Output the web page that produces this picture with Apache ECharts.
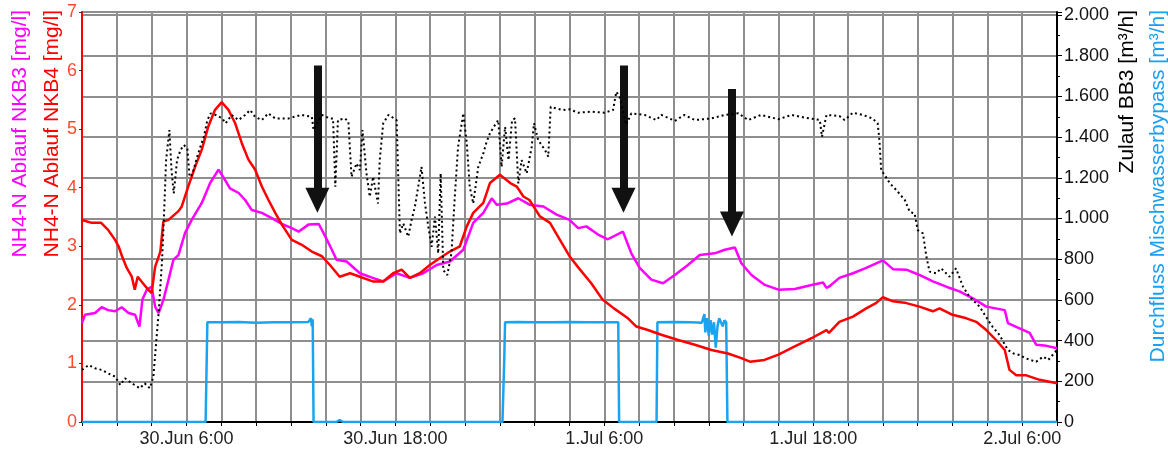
<!DOCTYPE html>
<html>
<head>
<meta charset="utf-8">
<script src="https://cdn.jsdelivr.net/npm/echarts@6/dist/echarts.min.js"></script>
<style>
html,body{margin:0;padding:0;background:#fff;}
#c{width:1168px;height:452px;}
</style>
</head>
<body>
<div id="c"></div>
<script>
// x values: hours since 30.Jun 00:00
const dayNames = ['30.Jun', '1.Jul', '2.Jul'];
const labelHours = [6, 18, 30, 42, 54];

// NH4-N Ablauf NKB4 [mg/l] (red)
const nkb4 = [[0,3.45],[0.56,3.40],[1.1,3.40],[1.5,3.28],[1.9,3.11],[2.1,3.0],[2.3,2.83],[2.57,2.63],[2.86,2.48],[3.03,2.26],[3.2,2.48],[3.5,2.37],[3.8,2.26],[4.0,2.2],[4.2,2.65],[4.5,2.91],[4.67,3.42],[4.97,3.45],[5.54,3.6],[5.73,3.68],[6.1,4.02],[6.5,4.36],[6.88,4.65],[7.26,5.05],[7.64,5.33],[8.03,5.46],[8.41,5.33],[8.8,5.1],[9.18,4.76],[9.56,4.48],[9.94,4.31],[10.33,4.02],[10.71,3.79],[11.1,3.57],[11.48,3.37],[12.05,3.11],[12.6,3.03],[13.2,2.91],[13.78,2.83],[14.24,2.68],[14.8,2.48],[15.4,2.54],[15.96,2.48],[16.7,2.40],[17.3,2.40],[17.87,2.54],[18.36,2.6],[18.83,2.46],[19.4,2.54],[19.98,2.68],[20.56,2.8],[21.13,2.91],[21.7,3.0],[22.1,3.34],[22.47,3.57],[23.05,3.74],[23.43,4.08],[24.0,4.22],[24.6,4.08],[24.97,4.02],[25.35,3.85],[25.7,3.79],[26.3,3.51],[26.88,3.40],[27.45,3.11],[28.0,2.83],[28.5,2.64],[29.25,2.37],[29.9,2.09],[30.55,1.94],[31.36,1.77],[31.84,1.63],[32.5,1.57],[33.27,1.49],[34.24,1.40],[35.2,1.32],[36.15,1.23],[37.1,1.17],[37.87,1.09],[38.36,1.03],[39.2,1.06],[40.0,1.15],[40.94,1.29],[41.9,1.43],[42.76,1.57],[42.9,1.52],[43.5,1.71],[44.28,1.8],[45.04,1.94],[45.6,2.03],[46.0,2.13],[46.58,2.06],[47.35,2.03],[48.1,1.97],[48.87,1.89],[49.25,1.94],[50.0,1.83],[50.8,1.77],[51.36,1.71],[51.94,1.57],[52.5,1.40],[53.0,1.23],[53.27,0.89],[53.66,0.80],[54.2,0.80],[55.0,0.72],[56,0.66]];

// NH4-N Ablauf NKB3 [mg/l] (magenta)
const nkb3 = [[0,1.69],[0.17,1.83],[0.75,1.86],[1.13,1.96],[1.5,1.91],[1.9,1.89],[2.28,1.96],[2.67,1.86],[3.05,1.83],[3.3,1.63],[3.47,2.09],[3.72,2.26],[4.0,2.31],[4.2,1.97],[4.4,1.86],[4.68,2.09],[4.97,2.43],[5.25,2.77],[5.54,2.85],[5.92,3.23],[6.3,3.45],[6.88,3.74],[7.36,4.08],[7.84,4.31],[8.2,4.14],[8.5,3.99],[9.0,3.91],[9.37,3.79],[9.75,3.62],[10.33,3.57],[10.9,3.48],[11.48,3.38],[12.05,3.31],[12.44,3.25],[13.0,3.37],[13.6,3.38],[13.97,3.17],[14.35,2.94],[14.62,2.77],[15.2,2.74],[15.96,2.54],[16.7,2.46],[17.3,2.40],[18.07,2.54],[18.83,2.46],[19.6,2.54],[20.37,2.68],[21.13,2.74],[21.9,2.94],[22.47,3.40],[23.05,3.57],[23.53,3.82],[23.82,3.71],[24.4,3.73],[25.06,3.82],[25.7,3.71],[26.5,3.68],[27.26,3.54],[28.0,3.45],[28.5,3.31],[28.97,3.34],[29.64,3.20],[30.2,3.12],[31.07,3.25],[31.55,2.88],[32.03,2.63],[32.7,2.43],[33.37,2.37],[34.05,2.51],[34.8,2.68],[35.48,2.85],[36.34,2.88],[36.92,2.94],[37.5,2.98],[37.87,2.71],[38.45,2.51],[39.22,2.34],[40.0,2.26],[40.94,2.27],[41.9,2.34],[42.57,2.38],[42.76,2.29],[42.9,2.31],[43.5,2.46],[44.28,2.54],[45.04,2.63],[46.0,2.76],[46.58,2.61],[47.35,2.6],[48.1,2.51],[48.87,2.40],[49.64,2.31],[50.4,2.23],[51.17,2.11],[51.94,1.97],[53.0,1.91],[53.18,1.69],[53.85,1.60],[54.43,1.52],[54.8,1.32],[55.4,1.30],[56,1.26]];

// Zulauf BB3 [m³/h] (black dotted)
const zulauf = [[0,256],[0.38,280],[0.75,264],[1.13,256],[1.5,239],[1.9,223],[2.2,182],[2.47,215],[2.86,190],[3.33,166],[3.6,190],[3.9,166],[4.1,223],[4.24,370],[4.4,534],[4.6,796],[4.7,993],[4.83,1287],[5.02,1435],[5.14,1238],[5.27,1124],[5.46,1287],[5.66,1337],[5.85,1361],[6.05,1345],[6.18,1205],[6.33,1215],[6.62,1304],[6.8,1353],[7.0,1402],[7.2,1484],[7.39,1517],[7.68,1509],[8.06,1492],[8.25,1468],[8.6,1509],[8.99,1484],[9.37,1509],[9.66,1533],[9.94,1500],[10.33,1484],[10.7,1517],[11.1,1492],[11.86,1492],[12.6,1509],[13.2,1500],[13.3,1435],[13.78,1509],[14.24,1492],[14.42,1492],[14.55,1156],[14.7,1484],[15.1,1492],[15.3,1476],[15.48,1205],[15.77,1271],[15.96,1238],[16.11,1435],[16.34,1222],[16.53,1107],[16.72,1205],[17.0,1074],[17.1,1287],[17.3,1468],[17.6,1509],[18.07,1484],[18.26,927],[18.45,976],[18.74,911],[18.93,993],[19.12,1058],[19.31,1156],[19.5,1254],[19.7,1074],[19.89,960],[20.08,861],[20.27,1009],[20.46,829],[20.6,1222],[20.75,747],[20.98,722],[21.22,829],[21.4,1091],[21.6,1353],[21.9,1517],[22.1,1370],[22.27,1156],[22.47,1074],[22.76,1254],[23.05,1320],[23.24,1377],[23.43,1419],[23.72,1460],[23.91,1484],[24.1,1254],[24.3,1451],[24.5,1287],[24.7,1484],[24.87,1492],[25.06,1173],[25.25,1287],[25.54,1222],[25.83,1353],[25.96,1468],[26.2,1386],[26.59,1337],[26.78,1304],[26.92,1549],[27.26,1541],[27.64,1533],[28.0,1537],[28.5,1520],[29.25,1525],[30.0,1520],[30.5,1533],[30.69,1623],[30.88,1598],[31.26,1460],[31.55,1517],[32.32,1509],[32.99,1484],[33.27,1509],[34.05,1480],[34.6,1509],[35.2,1484],[36.15,1492],[36.92,1509],[37.7,1517],[38.26,1484],[39.0,1509],[40.0,1488],[40.75,1509],[41.5,1496],[42.38,1484],[42.5,1402],[42.76,1509],[43.5,1504],[43.8,1484],[44.28,1520],[44.85,1509],[45.4,1492],[45.7,1468],[45.8,1386],[45.9,1238],[46.1,1214],[46.4,1173],[46.77,1140],[47.26,1091],[47.54,1033],[47.82,1025],[48.0,943],[48.3,927],[48.5,812],[48.68,739],[49.06,731],[49.35,755],[49.83,714],[50.2,755],[50.6,665],[50.97,616],[51.55,567],[52.1,493],[52.3,468],[52.7,427],[53.18,354],[53.5,337],[53.85,329],[54.2,313],[54.8,296],[55.2,321],[55.5,305],[56,354]];

// Durchfluss Mischwasserbypass [m³/h] (blue)
const bypass = [[0,0],[7.1,0],[7.2,490],[8,490],[9,492],[10,488],[11,490],[12,490],[13.0,492],[13.15,510],[13.2,470],[13.25,505],[13.3,0],[14.6,0],[14.8,10],[15.0,0],[24.15,0],[24.25,300],[24.3,490],[25,492],[26,490],[27,490],[28,492],[29,490],[30,490],[30.8,490],[30.85,0],[33.0,0],[33.05,490],[34,492],[35,490],[35.6,488],[35.75,530],[35.8,440],[35.9,510],[36.0,425],[36.1,500],[36.2,430],[36.3,490],[36.4,365],[36.5,470],[36.6,510],[36.7,505],[36.8,470],[36.9,500],[37.0,490],[37.07,0],[56,0]];

// Annotation arrows: [hour, top value, head-centre value] on the left axis
const arrows = [[13.52, 6.085, 3.786], [31.1, 6.085, 3.786], [37.33, 5.687, 3.379]];

const FONT = '"Liberation Sans", Arial, sans-serif';

function fmtThousands(v) {
  if (v > 2000) return '';
  if (v >= 1000) return Math.floor(v / 1000) + '.' + String(v % 1000).padStart(3, '0');
  return String(v);
}
function fmtHour(h) {
  if (labelHours.indexOf(h) < 0) return '';
  return dayNames[Math.floor(h / 24)] + ' ' + (h % 24) + ':00';
}

const chart = echarts.init(document.getElementById('c'), null, {renderer: 'canvas'});
const gridColor = '#8e8e8e';

chart.setOption({
  animation: false,
  backgroundColor: '#fff',
  textStyle: {fontFamily: FONT},
  grid: {left: 82, right: 111, top: 12, bottom: 30, containLabel: false},
  xAxis: {
    type: 'value', min: 0, max: 56, interval: 2,
    axisLine: {show: true, lineStyle: {color: '#000', width: 2}},
    axisTick: {show: true, length: 4, lineStyle: {color: '#000', width: 1}},
    splitLine: {show: true, lineStyle: {color: gridColor, width: 2}},
    axisLabel: {formatter: fmtHour, color: '#222', fontSize: 18, margin: 8, fontFamily: FONT}
  },
  yAxis: [
    {
      type: 'value', position: 'left', min: 0, max: 7, interval: 1,
      axisLine: {show: true, lineStyle: {color: '#ff0000', width: 2}},
      axisTick: {show: true, length: 3, lineStyle: {color: '#333'}},
      splitLine: {show: false},
      axisLabel: {color: '#ff4a30', fontSize: 18, margin: 5, fontFamily: FONT}
    },
    {
      type: 'value', position: 'right', min: 0, max: 2015, interval: 200,
      axisLine: {show: true, lineStyle: {color: '#000', width: 2}},
      axisTick: {show: true, length: 5, lineStyle: {color: '#000'}},
      minorTick: {show: true, splitNumber: 2, length: 3, lineStyle: {color: '#000'}},
      splitLine: {show: true, lineStyle: {color: gridColor, width: 2}},
      axisLabel: {color: '#111', fontSize: 18, margin: 7, formatter: fmtThousands, fontFamily: FONT}
    }
  ],
  series: [
    {type: 'line', name: 'bypass', yAxisIndex: 1, data: bypass, showSymbol: false, symbol: 'none',
     lineStyle: {color: '#18a4f2', width: 2.5}, z: 2},
    {type: 'line', name: 'nkb3', yAxisIndex: 0, data: nkb3, showSymbol: false, symbol: 'none',
     lineStyle: {color: '#ff00ff', width: 2.5}, z: 3},
    {type: 'line', name: 'nkb4', yAxisIndex: 0, data: nkb4, showSymbol: false, symbol: 'none',
     lineStyle: {color: '#ff0000', width: 2.5}, z: 4},
    {type: 'line', name: 'zulauf', yAxisIndex: 1, data: zulauf, showSymbol: false, symbol: 'none',
     lineStyle: {color: '#000', width: 2, type: [2, 3]}, z: 5},
    {type: 'line', name: 'arrows', yAxisIndex: 0, data: [], z: 10,
     markLine: {
       silent: true, symbol: ['none', 'triangle'], symbolSize: [24, 25],
       lineStyle: {color: '#111', width: 8, type: 'solid', opacity: 1},
       label: {show: false}, emphasis: {disabled: true},
       data: arrows.map(a => [{coord: [a[0], a[1]]}, {coord: [a[0], a[2]]}])
     }}
  ],
  graphic: [
    {type: 'text', x: 20, y: 10, rotation: Math.PI / 2,
     style: {text: 'NH4-N Ablauf NKB3 [mg/l]', fill: '#ff00ff', font: '21px ' + FONT, align: 'right', verticalAlign: 'middle', textAlign: 'right', textVerticalAlign: 'middle'}},
    {type: 'text', x: 52, y: 10, rotation: Math.PI / 2,
     style: {text: 'NH4-N Ablauf NKB4 [mg/l]', fill: '#ff0000', font: '21px ' + FONT, align: 'right', verticalAlign: 'middle', textAlign: 'right', textVerticalAlign: 'middle'}},
    {type: 'text', x: 1127, y: 10, rotation: Math.PI / 2,
     style: {text: 'Zulauf BB3 [m³/h]', fill: '#000', font: '21px ' + FONT, align: 'right', verticalAlign: 'middle', textAlign: 'right', textVerticalAlign: 'middle'}},
    {type: 'text', x: 1158, y: 10, rotation: Math.PI / 2,
     style: {text: 'Durchfluss Mischwasserbypass [m³/h]', fill: '#1aa0f0', font: '21px ' + FONT, align: 'right', verticalAlign: 'middle', textAlign: 'right', textVerticalAlign: 'middle'}}
  ]
});
</script>
</body>
</html>
